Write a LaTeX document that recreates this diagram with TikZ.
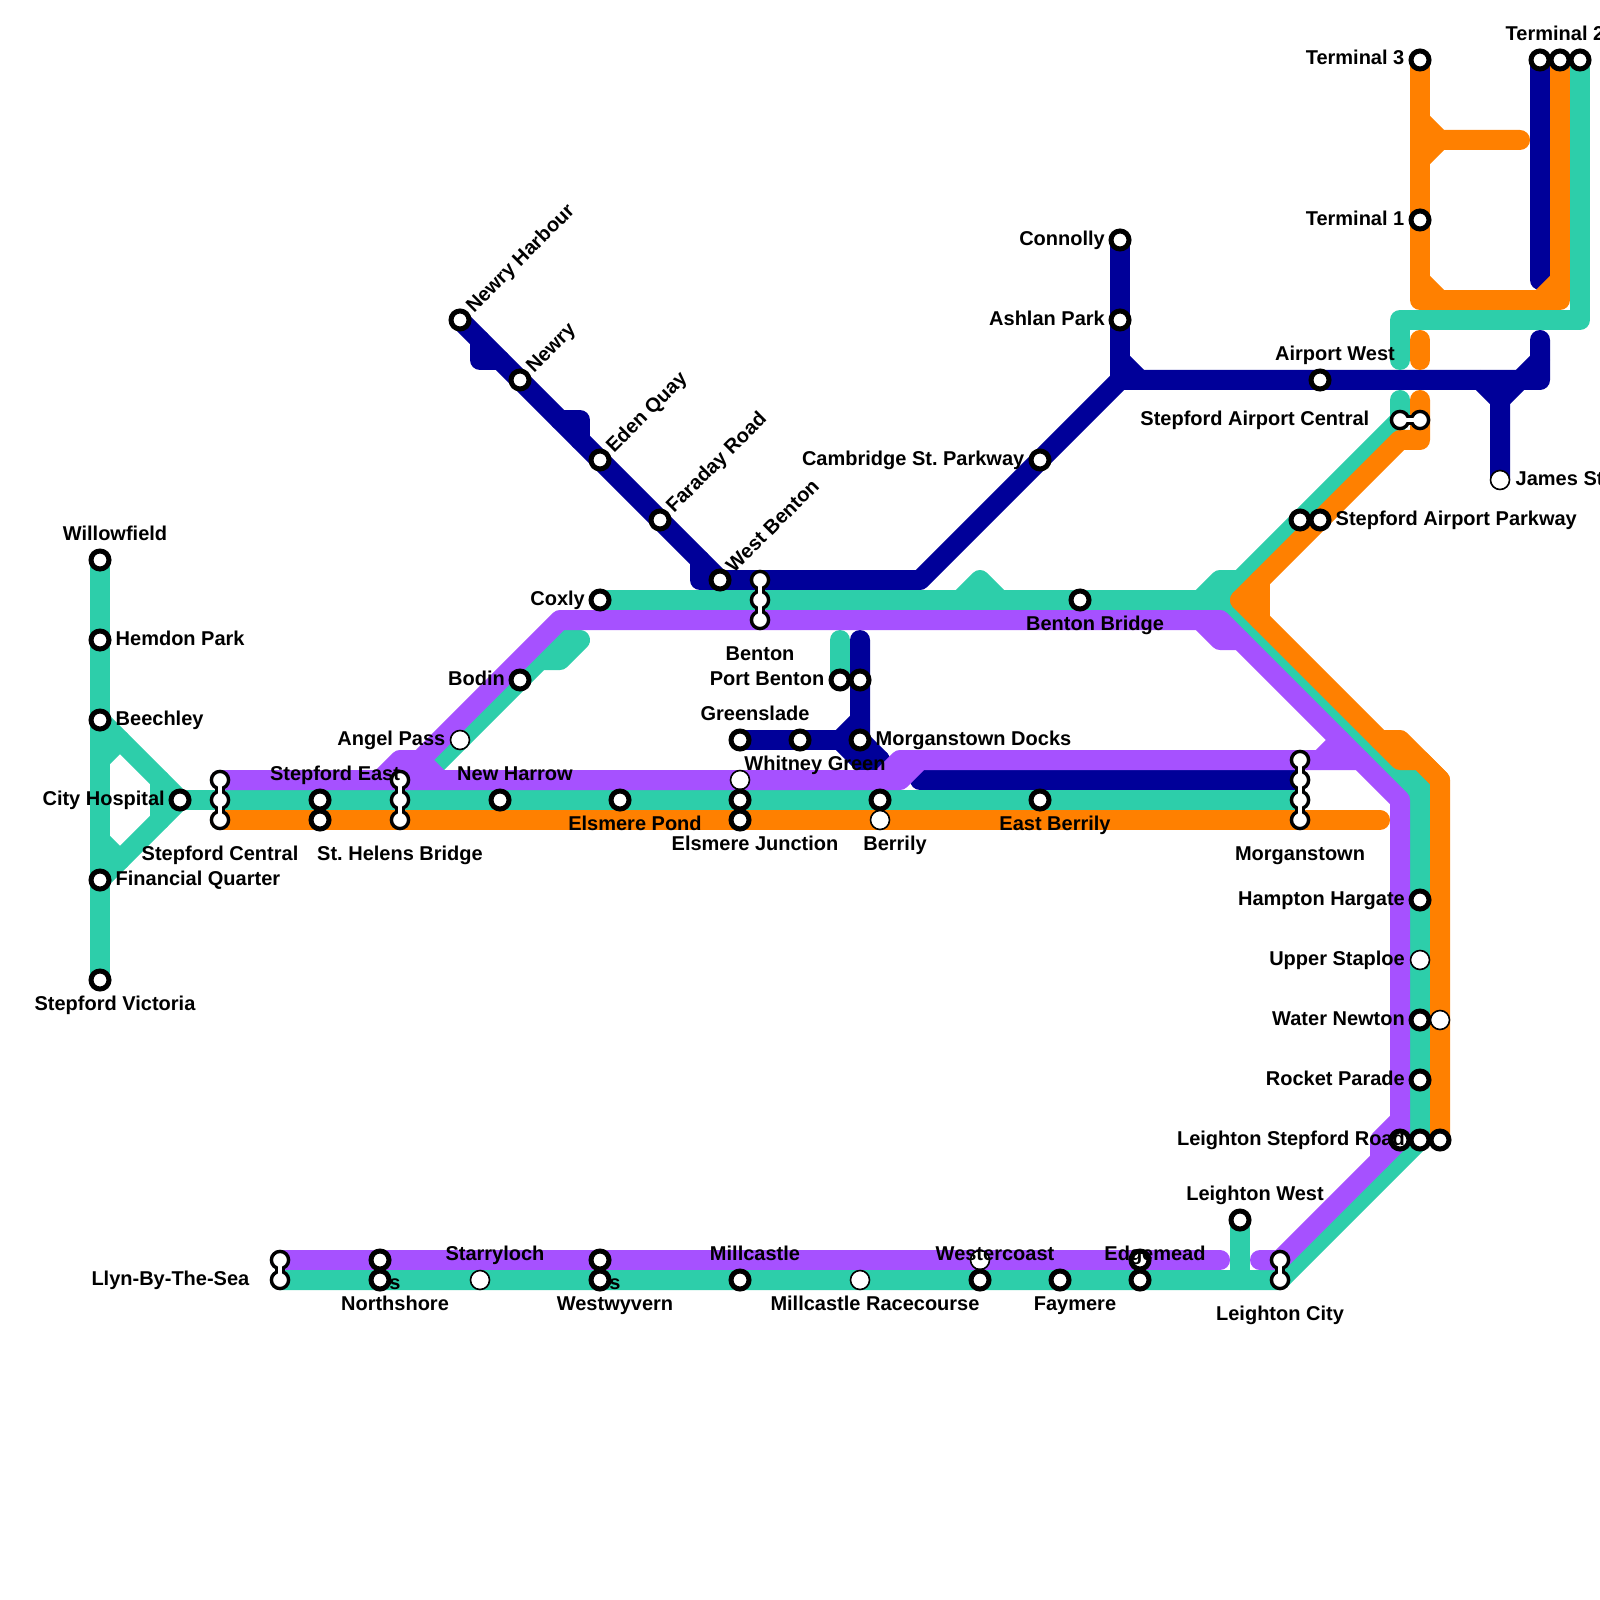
\documentclass[tikz,border=0pt]{standalone}
\usepackage{fontspec}
\setmainfont{Liberation Sans}
\frenchspacing
\definecolor{lineblue}{RGB}{0,0,153}
\definecolor{lineteal}{RGB}{45,206,170}
\definecolor{linepurple}{RGB}{166,81,255}
\definecolor{lineorange}{RGB}{255,128,0}
\pgfdeclarelayer{lines}
\pgfdeclarelayer{necks}
\pgfsetlayers{lines,necks,main}
\tikzset{
  metro/.style={line width=0.2cm, line cap=round, line join=round},
  bluepath/.style={metro, lineblue},
  tealpath/.style={metro, lineteal},
  purplepath/.style={metro, linepurple},
  orangepath/.style={metro, lineorange},
  stopring/.style={circle, draw=black, fill=white, line width=0.05cm, inner sep=0pt, outer sep=0pt, minimum size=0.18cm},
  openring/.style={circle, draw=black, fill=white, line width=0.016cm, inner sep=0pt, outer sep=0pt, minimum size=0.19cm},
  changering/.style={circle, draw=black, fill=white, line width=0.034cm, inner sep=0pt, outer sep=0pt, minimum size=0.172cm},
  neckout/.style={black, line width=0.1cm},
  neckin/.style={white, line width=0.04cm},
  stoplabel/.style={font=\fontsize{5.69}{7}\selectfont\bfseries, inner sep=0pt, text height=0.143cm, text depth=0pt},
  slantlabel/.style={stoplabel, rotate=45, anchor=west}
}

\begin{document}
\begin{tikzpicture}
  \useasboundingbox (0,0) rectangle (16,-16);

  % West branch
  \node[stopring] (willowfield) at (1,-5.6) {};
  \node[stopring] (hemdon) at (1,-6.4) {};
  \node[stopring] (beechley) at (1,-7.2) {};
  \node[stopring] (financial) at (1,-8.8) {};
  \node[stopring] (victoria) at (1,-9.8) {};
  \node[stopring] (cityhospital) at (1.8,-8) {};

  % Stepford row
  \node[changering] (centralA) at (2.2,-7.8) {};
  \node[changering] (centralB) at (2.2,-8) {};
  \node[changering] (centralC) at (2.2,-8.2) {};
  \node[stopring] (eastA) at (3.2,-8) {};
  \node[stopring] (eastB) at (3.2,-8.2) {};
  \node[changering] (helensA) at (4,-7.8) {};
  \node[changering] (helensB) at (4,-8) {};
  \node[changering] (helensC) at (4,-8.2) {};
  \node[stopring] (newharrow) at (5,-8) {};
  \node[stopring] (elsmerepond) at (6.2,-8) {};
  \node[openring] (junctionA) at (7.4,-7.8) {};
  \node[stopring] (junctionB) at (7.4,-8) {};
  \node[stopring] (junctionC) at (7.4,-8.2) {};
  \node[stopring] (berrilyA) at (8.8,-8) {};
  \node[openring] (berrilyB) at (8.8,-8.2) {};
  \node[stopring] (eastberrily) at (10.4,-8) {};
  \node[changering] (morganA) at (13,-7.6) {};
  \node[changering] (morganB) at (13,-7.8) {};
  \node[changering] (morganC) at (13,-8) {};
  \node[changering] (morganD) at (13,-8.2) {};

  % Benton area
  \node[openring] (angelpass) at (4.6,-7.4) {};
  \node[stopring] (bodin) at (5.2,-6.8) {};
  \node[stopring] (coxly) at (6,-6) {};
  \node[changering] (bentonA) at (7.6,-5.8) {};
  \node[changering] (bentonB) at (7.6,-6) {};
  \node[changering] (bentonC) at (7.6,-6.2) {};
  \node[stopring] (bentonbridge) at (10.8,-6) {};
  \node[stopring] (portbentonA) at (8.4,-6.8) {};
  \node[stopring] (portbentonB) at (8.6,-6.8) {};
  \node[stopring] (greenslade) at (7.4,-7.4) {};
  \node[stopring] (whitney) at (8,-7.4) {};
  \node[stopring] (docks) at (8.6,-7.4) {};

  % Newry branch
  \node[stopring] (newryharbour) at (4.6,-3.2) {};
  \node[stopring] (newry) at (5.2,-3.8) {};
  \node[stopring] (edenquay) at (6,-4.6) {};
  \node[stopring] (faraday) at (6.6,-5.2) {};
  \node[stopring] (westbenton) at (7.2,-5.8) {};

  % Airport
  \node[stopring] (cambridge) at (10.4,-4.6) {};
  \node[stopring] (connolly) at (11.2,-2.4) {};
  \node[stopring] (ashlan) at (11.2,-3.2) {};
  \node[stopring] (airportwest) at (13.2,-3.8) {};
  \node[changering] (aircentralA) at (14,-4.2) {};
  \node[changering] (aircentralB) at (14.2,-4.2) {};
  \node[stopring] (parkwayA) at (13,-5.2) {};
  \node[stopring] (parkwayB) at (13.2,-5.2) {};
  \node[openring] (jamesst) at (15,-4.8) {};
  \node[stopring] (terminalthree) at (14.2,-0.6) {};
  \node[stopring] (terminalone) at (14.2,-2.2) {};
  \node[stopring] (terminaltwoA) at (15.4,-0.6) {};
  \node[stopring] (terminaltwoB) at (15.6,-0.6) {};
  \node[stopring] (terminaltwoC) at (15.8,-0.6) {};

  % East column
  \node[stopring] (hampton) at (14.2,-9) {};
  \node[openring] (staploe) at (14.2,-9.6) {};
  \node[stopring] (waternewtonA) at (14.2,-10.2) {};
  \node[openring] (waternewtonB) at (14.4,-10.2) {};
  \node[stopring] (rocket) at (14.2,-10.8) {};
  \node[stopring] (roadA) at (14,-11.4) {};
  \node[stopring] (roadB) at (14.2,-11.4) {};
  \node[stopring] (roadC) at (14.4,-11.4) {};

  % Bottom row
  \node[changering] (llynA) at (2.8,-12.6) {};
  \node[changering] (llynB) at (2.8,-12.8) {};
  \node[stopring] (northshoreA) at (3.8,-12.6) {};
  \node[stopring] (northshoreB) at (3.8,-12.8) {};
  \node[openring] (starryloch) at (4.8,-12.8) {};
  \node[stopring] (westwyvernA) at (6,-12.6) {};
  \node[stopring] (westwyvernB) at (6,-12.8) {};
  \node[stopring] (millcastle) at (7.4,-12.8) {};
  \node[openring] (racecourse) at (8.6,-12.8) {};
  \node[openring] (westercoastA) at (9.8,-12.6) {};
  \node[stopring] (westercoastB) at (9.8,-12.8) {};
  \node[stopring] (faymere) at (10.6,-12.8) {};
  \node[stopring] (edgemeadA) at (11.4,-12.6) {};
  \node[stopring] (edgemeadB) at (11.4,-12.8) {};
  \node[stopring] (leightonwest) at (12.4,-12.2) {};
  \node[changering] (leightonA) at (12.8,-12.6) {};
  \node[changering] (leightonB) at (12.8,-12.8) {};

  \begin{pgfonlayer}{lines}
    % Blue line
    \draw[bluepath] (newryharbour.center) -- (newry.center) -- (edenquay.center) -- (faraday.center) -- (westbenton.center) -- (bentonA.center) -- (9.2,-5.8) -- (11.2,-3.8) -- (airportwest.center) -- (15.4,-3.8) -- (15.4,-3.4);
    \draw[bluepath] (4.8,-3.4) -- (4.8,-3.6) -- (5,-3.6);
    \draw[bluepath] (5.6,-4.2) -- (5.8,-4.2) -- (5.8,-4.4);
    \draw[bluepath] (7,-5.6) -- (7,-5.8) -- (westbenton.center);
    \draw[bluepath] (connolly.center) -- (ashlan.center) -- (11.2,-3.8);
    \draw[bluepath] (11.2,-3.6) -- (11.4,-3.8);
    \draw[bluepath] (14.8,-3.8) -- (15,-4) -- (jamesst.center);
    \draw[bluepath] (15.2,-3.8) -- (15,-4);
    \draw[bluepath] (15.2,-3.8) -- (15.4,-3.6);
    \draw[bluepath] (terminaltwoA.center) -- (15.4,-2.8);
    \draw[bluepath] (greenslade.center) -- (whitney.center) -- (docks.center);
    \draw[bluepath] (8.6,-6.4) -- (portbentonB.center) -- (docks.center) -- (8.8,-7.6);
    \draw[bluepath] (8.6,-7.2) -- (8.4,-7.4) -- (8.6,-7.6) -- (8.8,-7.6);
    \draw[bluepath] (9.2,-7.8) -- (morganB.center);

    % Teal line
    \draw[tealpath] (willowfield.center) -- (hemdon.center) -- (beechley.center) -- (financial.center) -- (victoria.center);
    \draw[tealpath] (beechley.center) -- (cityhospital.center) -- (financial.center);
    \draw[tealpath] (1.6,-7.8) -- (1.6,-8.2);
    \draw[tealpath] (1,-7.6) -- (1.2,-7.4);
    \draw[tealpath] (1,-8.4) -- (1.2,-8.6);
    \draw[tealpath] (cityhospital.center) -- (centralB.center) -- (eastA.center) -- (helensB.center) -- (newharrow.center) -- (elsmerepond.center) -- (junctionB.center) -- (berrilyA.center) -- (eastberrily.center) -- (morganC.center);
    \draw[tealpath] (coxly.center) -- (bentonB.center) -- (bentonbridge.center) -- (12.2,-6) -- (14,-7.8) -- (14.2,-7.8) -- (hampton.center) -- (staploe.center) -- (waternewtonA.center) -- (rocket.center) -- (roadB.center) -- (leightonB.center) -- (edgemeadB.center) -- (faymere.center) -- (westercoastB.center) -- (racecourse.center) -- (millcastle.center) -- (westwyvernB.center) -- (starryloch.center) -- (northshoreB.center) -- (llynB.center);
    \draw[tealpath] (14,-7.8) -- (14.2,-8);
    \draw[tealpath] (9.6,-6) -- (9.8,-5.8) -- (10,-6);
    \draw[tealpath] (12,-6) -- (12.2,-5.8) -- (12.4,-5.8) -- (parkwayA.center) -- (aircentralA.center) -- (14,-4);
    \draw[tealpath] (12.2,-6) -- (12.4,-5.8);
    \draw[tealpath] (leightonwest.center) -- (12.4,-12.8);
    \draw[tealpath] (8.4,-6.4) -- (portbentonA.center);
    \draw[tealpath] (4.2,-7.8) -- (angelpass.center) -- (bodin.center) -- (5.6,-6.4) -- (5.8,-6.4) -- (5.6,-6.6) -- (5.4,-6.6);
    \draw[tealpath] (terminaltwoC.center) -- (15.8,-3.2) -- (14,-3.2) -- (14,-3.6);

    % Purple line
    \draw[purplepath] (centralA.center) -- (helensA.center) -- (junctionA.center) -- (9,-7.8) -- (9.2,-7.6) -- (morganA.center) -- (13.6,-7.6);
    \draw[purplepath] (8.8,-7.8) -- (9,-7.6) -- (9.2,-7.6);
    \draw[purplepath] (3.8,-7.8) -- (4,-7.6) -- (4.2,-7.6) -- (4.4,-7.8);
    \draw[purplepath] (4.2,-7.6) -- (5.6,-6.2) -- (bentonC.center) -- (12.2,-6.2) -- (14,-8) -- (14,-11.2) -- (13.8,-11.4) -- (13.8,-11.6) -- (leightonA.center) -- (12.6,-12.6);
    \draw[purplepath] (14,-11.2) -- (roadA.center) -- (13.8,-11.6);
    \draw[purplepath] (12,-6.2) -- (12.2,-6.4) -- (12.4,-6.4);
    \draw[purplepath] (13.2,-7.6) -- (13.4,-7.4);
    \draw[purplepath] (llynA.center) -- (northshoreA.center) -- (westwyvernA.center) -- (westercoastA.center) -- (edgemeadA.center) -- (12.2,-12.6);

    % Orange line
    \draw[orangepath] (centralC.center) -- (eastB.center) -- (helensC.center) -- (junctionC.center) -- (berrilyB.center) -- (morganD.center) -- (13.8,-8.2);
    \draw[orangepath] (12.4,-6) -- (12.6,-5.8) -- (parkwayB.center) -- (14,-4.4) -- (14.2,-4.4) -- (aircentralB.center) -- (14.2,-4);
    \draw[orangepath] (12.6,-5.8) -- (12.6,-6.2);
    \draw[orangepath] (12.4,-6) -- (13.8,-7.4) -- (14,-7.4) -- (14.4,-7.8) -- (waternewtonB.center) -- (roadC.center);
    \draw[orangepath] (13.8,-7.4) -- (14,-7.6) -- (14.2,-7.6) -- (14.4,-7.8);
    \draw[orangepath] (14.2,-3.4) -- (14.2,-3.6);
    \draw[orangepath] (terminalthree.center) -- (terminalone.center) -- (14.2,-3) -- (15.6,-3) -- (terminaltwoB.center);
    \draw[orangepath] (14.2,-2.8) -- (14.4,-3);
    \draw[orangepath] (15.4,-3) -- (15.6,-2.8);
    \draw[orangepath] (14.2,-1.2) -- (14.4,-1.4) -- (15.2,-1.4);
    \draw[orangepath] (14.2,-1.6) -- (14.4,-1.4);
  \end{pgfonlayer}

  % Interchange necks
  \begin{pgfonlayer}{necks}
    \draw[neckout] (centralA.center) -- (centralC.center);
    \draw[neckout] (helensA.center) -- (helensC.center);
    \draw[neckout] (bentonA.center) -- (bentonC.center);
    \draw[neckout] (morganA.center) -- (morganD.center);
    \draw[neckout] (aircentralA.center) -- (aircentralB.center);
    \draw[neckout] (llynA.center) -- (llynB.center);
    \draw[neckout] (leightonA.center) -- (leightonB.center);
  \end{pgfonlayer}
  \draw[neckin] (centralA.center) -- (centralC.center);
  \draw[neckin] (helensA.center) -- (helensC.center);
  \draw[neckin] (bentonA.center) -- (bentonC.center);
  \draw[neckin] (morganA.center) -- (morganD.center);
  \draw[neckin] (aircentralA.center) -- (aircentralB.center);
  \draw[neckin] (llynA.center) -- (llynB.center);
  \draw[neckin] (leightonA.center) -- (leightonB.center);

  % Labels, west
  \node[stoplabel] (willowfieldlab) at (1.15,-5.33) {Willowfield};
  \node[stoplabel, anchor=west] (hemdonlab) at (1.15,-6.38) {Hemdon Park};
  \node[stoplabel, anchor=west] (beechleylab) at (1.15,-7.18) {Beechley};
  \node[stoplabel, anchor=west] (financiallab) at (1.15,-8.78) {Financial Quarter};
  \node[stoplabel] (victorialab) at (1.15,-10.03) {Stepford Victoria};
  \node[stoplabel, anchor=east] (cityhospitallab) at (1.655,-7.98) {City Hospital};
  \node[stoplabel] (centrallab) at (2.2,-8.53) {Stepford Central};
  \node[stoplabel] (eastlab) at (3.35,-7.73) {Stepford East};
  \node[stoplabel] (helenslab) at (4,-8.53) {St. Helens Bridge};
  \node[stoplabel] (newharrowlab) at (5.15,-7.73) {New Harrow};
  \node[stoplabel] (elsmerepondlab) at (6.35,-8.23) {Elsmere Pond};
  \node[stoplabel] (junctionlab) at (7.55,-8.43) {Elsmere Junction};
  \node[stoplabel] (berrilylab) at (8.95,-8.43) {Berrily};
  \node[stoplabel] (eastberrilylab) at (10.55,-8.23) {East Berrily};
  \node[stoplabel] (morganlab) at (13,-8.53) {Morganstown};

  % Labels, Benton area
  \node[stoplabel, anchor=east] (angelpasslab) at (4.46,-7.38) {Angel Pass};
  \node[stoplabel, anchor=east] (bodinlab) at (5.055,-6.78) {Bodin};
  \node[stoplabel, anchor=east] (coxlylab) at (5.855,-5.98) {Coxly};
  \node[stoplabel] (bentonlab) at (7.6,-6.53) {Benton};
  \node[stoplabel, anchor=east] (portbentonlab) at (8.25,-6.78) {Port Benton};
  \node[stoplabel] (greensladelab) at (7.55,-7.13) {Greenslade};
  \node[stoplabel] (whitneylab) at (8.15,-7.63) {Whitney Green};
  \node[stoplabel, anchor=west] (dockslab) at (8.75,-7.38) {Morganstown Docks};
  \node[stoplabel] (bentonbridgelab) at (10.95,-6.23) {Benton Bridge};

  % Labels, Newry branch
  \node[slantlabel] (newryharbourlab) at (4.685,-3.09) {Newry Harbour};
  \node[slantlabel] (newrylab) at (5.285,-3.69) {Newry};
  \node[slantlabel] (edenquaylab) at (6.085,-4.49) {Eden Quay};
  \node[slantlabel] (faradaylab) at (6.685,-5.09) {Faraday Road};
  \node[slantlabel] (westbentonlab) at (7.285,-5.69) {West Benton};

  % Labels, airport
  \node[stoplabel, anchor=east] (cambridgelab) at (10.25,-4.58) {Cambridge St. Parkway};
  \node[stoplabel, anchor=east] (connollylab) at (11.055,-2.38) {Connolly};
  \node[stoplabel, anchor=east] (ashlanlab) at (11.055,-3.18) {Ashlan Park};
  \node[stoplabel] (airportwestlab) at (13.35,-3.53) {Airport West};
  \node[stoplabel, anchor=east] (aircentrallab) at (13.7,-4.18) {Stepford Airport Central};
  \node[stoplabel, anchor=west] (parkwaylab) at (13.35,-5.18) {Stepford Airport Parkway};
  \node[stoplabel, anchor=west] (jamesstlab) at (15.15,-4.78) {James St};
  \node[stoplabel, anchor=east] (terminalthreelab) at (14.05,-0.57) {Terminal 3};
  \node[stoplabel, anchor=east] (terminalonelab) at (14.05,-2.18) {Terminal 1};
  \node[stoplabel, anchor=west] (terminaltwolab) at (15.05,-0.33) {Terminal 2};

  % Labels, east column
  \node[stoplabel, anchor=east] (hamptonlab) at (14.055,-8.98) {Hampton Hargate};
  \node[stoplabel, anchor=east] (staploelab) at (14.055,-9.58) {Upper Staploe};
  \node[stoplabel, anchor=east] (waternewtonlab) at (14.055,-10.18) {Water Newton};
  \node[stoplabel, anchor=east] (rocketlab) at (14.055,-10.78) {Rocket Parade};
  \node[stoplabel, anchor=east] (roadlab) at (14.055,-11.38) {Leighton Stepford Road};

  % Labels, bottom row
  \node[stoplabel, anchor=east] (llynlab) at (2.5,-12.78) {Llyn-By-The-Sea};
  \node[stoplabel] (northshorelab) at (3.95,-13.03) {Northshore};
  \node[stoplabel] (northshoreend) at (3.95,-12.82) {s};
  \node[stoplabel] (starrylochlab) at (4.95,-12.53) {Starryloch};
  \node[stoplabel] (westwyvernlab) at (6.15,-13.03) {Westwyvern};
  \node[stoplabel] (westwyvernend) at (6.15,-12.82) {s};
  \node[stoplabel] (millcastlelab) at (7.55,-12.53) {Millcastle};
  \node[stoplabel] (racecourselab) at (8.75,-13.03) {Millcastle Racecourse};
  \node[stoplabel] (westercoastlab) at (9.95,-12.53) {Westercoast};
  \node[stoplabel] (faymerelab) at (10.75,-13.03) {Faymere};
  \node[stoplabel] (edgemeadlab) at (11.55,-12.53) {Edgemead};
  \node[stoplabel] (leightonwestlab) at (12.55,-11.93) {Leighton West};
  \node[stoplabel] (leightonlab) at (12.8,-13.13) {Leighton City};
\end{tikzpicture}
\end{document}
